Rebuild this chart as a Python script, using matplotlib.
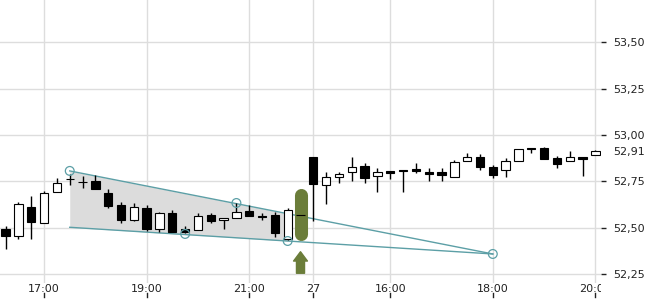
import matplotlib
matplotlib.use('Agg')
import matplotlib.pyplot as plt
from matplotlib.transforms import Bbox, TransformedBbox
import numpy as np

# 15-min candles, x is the bar index (0 = 17:00)
idx = list(range(-3, 44))
opens = [52.493, 52.457, 52.610, 52.527, 52.691, 52.761, 52.748, 52.752, 52.685, 52.622,
         52.543, 52.604, 52.491, 52.581, 52.493, 52.486, 52.568, 52.540, 52.550, 52.590,
         52.561, 52.568, 52.437, 52.568, 52.883, 52.730, 52.772, 52.799, 52.834, 52.777,
         52.806, 52.808, 52.817, 52.800, 52.802, 52.775, 52.860, 52.880, 52.829, 52.811,
         52.860, 52.931, 52.931, 52.878, 52.860, 52.880, 52.892]
closes = [52.457, 52.628, 52.529, 52.687, 52.739, 52.761, 52.744, 52.707, 52.618, 52.541,
          52.610, 52.493, 52.577, 52.478, 52.475, 52.561, 52.537, 52.550, 52.583, 52.565,
          52.560, 52.469, 52.595, 52.568, 52.737, 52.775, 52.790, 52.826, 52.770, 52.799,
          52.797, 52.807, 52.808, 52.791, 52.786, 52.853, 52.880, 52.829, 52.782, 52.860,
          52.924, 52.923, 52.869, 52.842, 52.880, 52.869, 52.914]
highs = [52.510, 52.637, 52.671, 52.698, 52.766, 52.790, 52.780, 52.784, 52.707, 52.640,
         52.635, 52.622, 52.586, 52.595, 52.507, 52.581, 52.581, 52.550, 52.633, 52.622,
         52.577, 52.583, 52.608, 52.568, 52.883, 52.799, 52.799, 52.883, 52.847, 52.820,
         52.806, 52.811, 52.847, 52.820, 52.820, 52.865, 52.901, 52.897, 52.838, 52.874,
         52.924, 52.932, 52.937, 52.887, 52.915, 52.880, 52.917]
lows = [52.383, 52.439, 52.439, 52.523, 52.690, 52.730, 52.716, 52.707, 52.608, 52.523,
        52.538, 52.484, 52.478, 52.478, 52.470, 52.485, 52.523, 52.491, 52.550, 52.565,
        52.541, 52.451, 52.433, 52.568, 52.536, 52.626, 52.743, 52.753, 52.743, 52.694,
        52.761, 52.694, 52.793, 52.753, 52.753, 52.775, 52.860, 52.813, 52.766, 52.775,
        52.860, 52.901, 52.869, 52.824, 52.860, 52.780, 52.892]

tick_pos = [0, 8, 16, 21, 27, 35, 43]
tick_labels = ['17:00', '19:00', '21:00', '27', '16:00', '18:00', '20:00']
y_ticks = [52.25, 52.50, 52.75, 53.00, 53.25, 53.50]
last_price = 52.91

# triangle pattern
upper_line = ([2, 35], [52.806, 52.358])
lower_line = ([2, 35], [52.502, 52.358])
shade_end = 19
pivots_x = [2, 15, 11, 19, 35]
pivots_y = [52.806, 52.633, 52.466, 52.428, 52.358]

signal_idx = 20
signal_range = (52.468, 52.674)
arrow_range = (52.254, 52.370)

teal = '#5c9fa6'
green = '#6b7d3a'
txt = '#222222'

fig = plt.figure(figsize=(6.5, 3), dpi=100)
ax = fig.add_axes([0, 17 / 300, 601 / 650, 283 / 300])

# shaded triangle
xs = np.linspace(upper_line[0][0], shade_end, 50)
up = np.interp(xs, upper_line[0], upper_line[1])
lo = np.interp(xs, lower_line[0], lower_line[1])
ax.fill_between(xs, lo, up, color='#dcdcdc', lw=0, zorder=1)
ax.plot(upper_line[0], upper_line[1], color=teal, lw=1, zorder=2)
ax.plot(lower_line[0], lower_line[1], color=teal, lw=1, zorder=2)
ax.scatter(pivots_x, pivots_y, s=40, facecolors='none', edgecolors=teal,
           linewidths=0.9, zorder=5)

# candles
o = np.array(opens)
c = np.array(closes)
x = np.array(idx)
ax.vlines(x, lows, highs, color='black', lw=1, zorder=3)
bottom = np.minimum(o, c)
height = np.maximum(np.abs(c - o), 0.002)
face = ['white' if cc > oo else 'black' for oo, cc in zip(o, c)]
ax.bar(x, height, bottom=bottom, width=0.65, color=face, edgecolor='black',
       linewidth=0.8, zorder=4)

# signal marker
ax.plot([signal_idx, signal_idx], signal_range, color=green, lw=9.4,
        solid_capstyle='round', zorder=3.5)
ax.annotate('', xy=(signal_idx, arrow_range[1]), xytext=(signal_idx, arrow_range[0]),
            arrowprops=dict(arrowstyle='simple,head_width=1.0,head_length=0.67,tail_width=0.58',
                            color=green, shrinkA=0, shrinkB=0, mutation_scale=10), zorder=5)

ax.set_xlim(-3.44, 43.44)
ax.set_ylim(52.2014, 53.728)

for s in ax.spines.values():
    s.set_visible(False)
ax.grid(True, color='#dddddd', lw=1)
ax.set_axisbelow(True)

ax.set_xticks(tick_pos)
ax.set_xticklabels(tick_labels)
ax.tick_params(axis='x', length=0, pad=1, labelsize=8, labelcolor=txt)
clip = TransformedBbox(Bbox([[0, -0.3], [1, 1]]), ax.transAxes)
for t in ax.get_xticklabels():
    t.set_clip_box(clip)
    t.set_clip_on(True)
for p in tick_pos:
    ax.plot([p, p], [-0.035, -0.05], color=txt, lw=1,
            transform=ax.get_xaxis_transform(), clip_on=False)

ax.yaxis.tick_right()
ax.set_yticks(y_ticks)
ax.set_yticklabels([('%.2f' % v).replace('.', ',') for v in y_ticks])
ax.tick_params(axis='y', length=3.6, width=1, color=txt, pad=5, labelsize=8, labelcolor=txt)
ax.annotate(('%.2f' % last_price).replace('.', ','), xy=(1, last_price),
            xycoords=('axes fraction', 'data'), xytext=(8.6, 0), textcoords='offset points',
            va='center', ha='left', fontsize=8, color=txt)

plt.savefig('out.png', dpi=100)
